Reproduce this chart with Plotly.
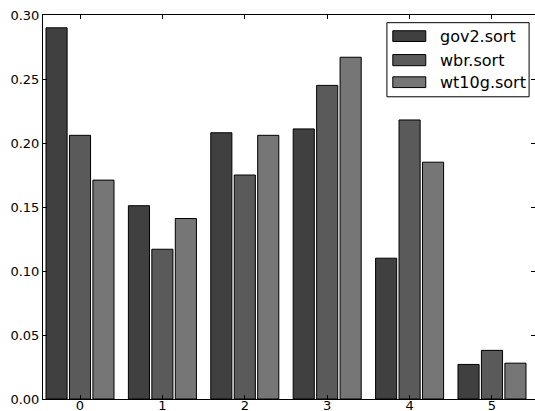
import plotly.graph_objects as go

categories = [0, 1, 2, 3, 4, 5]
gov2 = [0.290, 0.151, 0.208, 0.211, 0.110, 0.027]
wbr = [0.206, 0.117, 0.175, 0.245, 0.218, 0.038]
wt10g = [0.171, 0.141, 0.206, 0.267, 0.185, 0.028]
series_names = ["gov2.sort", "wbr.sort", "wt10g.sort"]
colors = ["#404040", "#5a5a5a", "#767676"]
y_ticks = [0, 0.05, 0.10, 0.15, 0.20, 0.25, 0.30]

fig = go.Figure()
for name, vals, c in zip(series_names, [gov2, wbr, wt10g], colors):
    fig.add_trace(go.Bar(x=categories, y=vals, name=name, showlegend=False,
                         marker=dict(color=c, line=dict(color="black", width=1))))

# manual matplotlib-style legend (paper coordinates)
legend_box = dict(x0=0.699, x1=0.988, y0=0.787, y1=0.980)
fig.add_shape(type="rect", xref="paper", yref="paper", **legend_box,
              line=dict(color="black", width=1), fillcolor="white", layer="above")
patch_rows = [(0.931, 0.959), (0.868, 0.897), (0.811, 0.839)]
for (y0, y1), name, c in zip(patch_rows, series_names, colors):
    fig.add_shape(type="rect", xref="paper", yref="paper", x0=0.711, x1=0.778,
                  y0=y0, y1=y1, fillcolor=c, line=dict(color="black", width=1),
                  layer="above")
    fig.add_annotation(xref="paper", yref="paper", x=0.803, y=(y0 + y1) / 2,
                       text=name, showarrow=False, xanchor="left", yanchor="middle",
                       font=dict(size=16, color="black"))

fig.update_layout(
    width=535, height=411,
    margin=dict(l=43, r=0, t=15, b=12),
    plot_bgcolor="white", paper_bgcolor="white",
    barmode="group", bargap=0.146, bargroupgap=0.1,
    font=dict(family="DejaVu Sans", size=13, color="black"),
)
fig.update_xaxes(range=[-0.449, 5.522], tickvals=categories, ticks="inside",
                 ticklen=4, tickcolor="black", showline=True, linecolor="black",
                 linewidth=1, mirror="ticks", showgrid=False, zeroline=False,
                 automargin=False, ticklabelstandoff=-6)
fig.update_yaxes(range=[0, 0.30], tickvals=y_ticks,
                 tickformat=".2f", ticks="inside", ticklen=4, tickcolor="black",
                 showline=True, linecolor="black", linewidth=1, mirror="ticks",
                 showgrid=False, zeroline=False, automargin=False)

fig.write_html("out.html")
